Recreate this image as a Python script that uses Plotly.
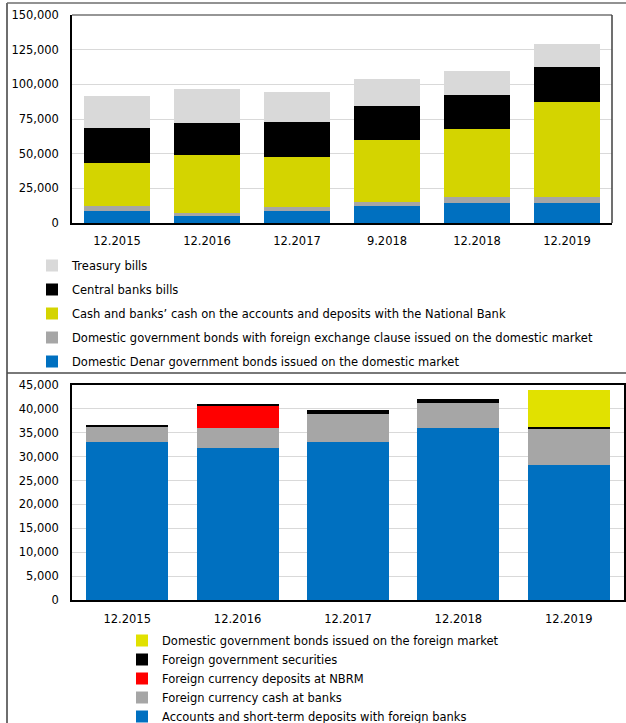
import plotly.graph_objects as go

# ---------------- data ----------------
top_categories = ["12.2015", "12.2016", "12.2017", "9.2018", "12.2018", "12.2019"]
denar_bonds = [8700, 5100, 8700, 12300, 14500, 14500]
fx_clause_bonds = [3600, 2400, 2700, 2500, 3900, 3900]
cash_nb = [30800, 41400, 36300, 44700, 49100, 69200]
cb_bills = [25100, 23000, 24900, 25200, 24900, 24900]
treasury_bills = [23300, 24400, 21800, 18800, 17000, 16500]

bottom_categories = ["12.2015", "12.2016", "12.2017", "12.2018", "12.2019"]
accounts_foreign = [33100, 31900, 33000, 36000, 28300]
fx_cash_banks = [3300, 4000, 6000, 5300, 7400]
fx_deposits_nbrm = [0, 4700, 0, 0, 0]
foreign_gov_sec = [300, 500, 700, 700, 500]
dom_bonds_foreign_mkt = [0, 0, 0, 0, 7700]

top_names = [
    "Domestic Denar government bonds issued on the domestic market",
    "Domestic government bonds with foreign exchange clause issued on the domestic market",
    "Cash and banks’ cash on the accounts and deposits with the National Bank",
    "Central banks bills",
    "Treasury bills",
]
bottom_names = [
    "Accounts and short-term deposits with foreign banks",
    "Foreign currency cash at banks",
    "Foreign currency deposits at NBRM",
    "Foreign government securities",
    "Domestic government bonds issued on the foreign market",
]

top_series = [denar_bonds, fx_clause_bonds, cash_nb, cb_bills, treasury_bills]
top_colors = ["#0070C0", "#A6A6A6", "#D4D400", "#000000", "#D9D9D9"]
bottom_series = [accounts_foreign, fx_cash_banks, fx_deposits_nbrm, foreign_gov_sec, dom_bonds_foreign_mkt]
bottom_colors = ["#0070C0", "#A6A6A6", "#FF0000", "#000000", "#E1E100"]

W, H = 626, 723
FONT = "DejaVu Sans"
FS = 11.5


def px_x(v):
    return v / W


def px_y(v):
    return 1 - v / H


fig = go.Figure()

n_top = len(top_names)
for i, (name, vals, col) in enumerate(zip(top_names, top_series, top_colors)):
    fig.add_trace(go.Bar(
        x=top_categories, y=vals, name=name, marker=dict(color=col, line=dict(width=0)),
        width=0.733, xaxis="x", yaxis="y", legend="legend", legendgroup="t%d" % i,
        legendrank=n_top - i,
    ))

n_bot = len(bottom_names)
for i, (name, vals, col) in enumerate(zip(bottom_names, bottom_series, bottom_colors)):
    fig.add_trace(go.Bar(
        x=bottom_categories, y=vals, name=name, marker=dict(color=col, line=dict(width=0)),
        width=0.743, xaxis="x2", yaxis="y2", legend="legend2", legendgroup="b%d" % i,
        legendrank=n_bot - i,
    ))

axis_font = dict(family=FONT, size=FS, color="#000000")

fig.update_layout(
    template="none",
    width=W, height=H,
    margin=dict(l=0, r=0, t=0, b=0, autoexpand=False),
    paper_bgcolor="white", plot_bgcolor="white",
    barmode="stack",
    font=dict(family=FONT, size=FS, color="#000000"),
    showlegend=True,
    xaxis=dict(domain=[px_x(72), px_x(612)], anchor="y", type="category", automargin=False,
               showline=True, linecolor="#000000", linewidth=1.5, ticks="",
               tickfont=axis_font, ticklabelstandoff=6, showgrid=False),
    yaxis=dict(domain=[px_y(223), px_y(15)], anchor="x", range=[0, 150000], dtick=25000,
               automargin=False,
               tickformat=",d", showline=True, linecolor="#000000", linewidth=1.5,
               showgrid=True, gridcolor="#D9D9D9", gridwidth=1, ticks="",
               tickfont=axis_font, ticklabelstandoff=9, zeroline=False),
    xaxis2=dict(domain=[px_x(72), px_x(624)], anchor="y2", type="category", automargin=False,
                showline=True, linecolor="#000000", linewidth=1.5, mirror=True, ticks="",
                tickfont=axis_font, ticklabelstandoff=7, showgrid=False),
    yaxis2=dict(domain=[px_y(600), px_y(385)], anchor="x2", range=[0, 45000], dtick=5000,
                automargin=False,
                tickformat=",d", showline=True, linecolor="#000000", linewidth=1.5, mirror=True,
                showgrid=True, gridcolor="#D9D9D9", gridwidth=1, ticks="",
                tickfont=axis_font, ticklabelstandoff=9, zeroline=False),
    legend=dict(x=px_x(32), y=px_y(251), xanchor="left", yanchor="top",
                traceorder="grouped", tracegroupgap=5, itemwidth=30,
                font=dict(family=FONT, size=FS, color="#000000"), bgcolor="rgba(0,0,0,0)"),
    legend2=dict(x=px_x(122), y=px_y(626), xanchor="left", yanchor="top",
                 traceorder="grouped", tracegroupgap=0, itemwidth=30,
                 font=dict(family=FONT, size=FS, color="#000000"), bgcolor="rgba(0,0,0,0)"),
    shapes=[
        # outer frame lines
        dict(type="line", xref="paper", yref="paper", x0=px_x(7), x1=1, y0=px_y(3), y1=px_y(3),
             line=dict(color="#6E6E6E", width=1.5)),
        dict(type="line", xref="paper", yref="paper", x0=px_x(7), x1=px_x(7), y0=px_y(3), y1=0,
             line=dict(color="#6E6E6E", width=2)),
        dict(type="line", xref="paper", yref="paper", x0=px_x(7), x1=1, y0=px_y(373), y1=px_y(373),
             line=dict(color="#4D4D4D", width=1.5)),
        # top chart frame (top and right edges)
        dict(type="line", xref="paper", yref="paper", x0=px_x(72), x1=px_x(612), y0=px_y(15), y1=px_y(15),
             line=dict(color="#737373", width=1.5)),
        dict(type="line", xref="paper", yref="paper", x0=px_x(612), x1=px_x(612), y0=px_y(15), y1=px_y(223),
             line=dict(color="#404040", width=1.5)),
    ],
)

fig.write_html(
    "out.html",
    config={"displayModeBar": False},
    post_script="document.body.style.margin='0px';document.body.style.overflow='hidden';",
)
